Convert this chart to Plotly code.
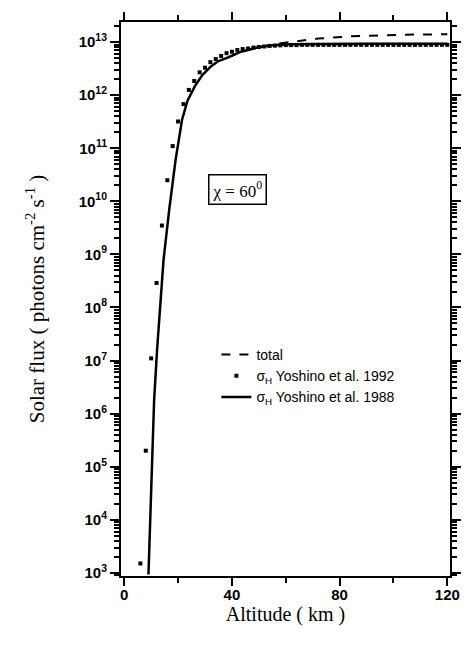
import plotly.graph_objects as go

# Altitude grids (km) and solar flux (photons cm^-2 s^-1)
alt_1988 = [9.0, 9.8, 10.4, 11.1, 12.2, 13.4, 14.6, 16.7, 19.1, 21.5, 23.5, 26.3,
            29.0, 32.2, 35.0, 38.4, 43.0, 49.3, 55.0, 62.0, 75.0, 90.0, 105.0, 120.0]
flux_1988 = [9.3e2, 2.3e4, 2.0e5, 1.8e6, 1.6e7, 1.4e8, 7.9e8, 6.9e9, 6.2e10, 3.5e11,
             7.9e11, 1.5e12, 2.4e12, 3.5e12, 4.4e12, 5.1e12, 6.5e12, 7.9e12, 8.7e12,
             9.1e12, 9.3e12, 9.3e12, 9.3e12, 9.3e12]

alt_total = [38.4, 43.0, 49.3, 55.0, 62.7, 72.0, 84.0, 96.0, 108.0, 120.0]
flux_total = [5.1e12, 6.5e12, 7.9e12, 9.0e12, 1.02e13, 1.17e13, 1.29e13, 1.35e13,
              1.39e13, 1.41e13]

alt_1992 = [6, 8, 10, 12, 14, 16, 18, 20, 22, 24, 26, 28, 30, 32, 34, 36, 38, 40,
            42, 44, 46, 48, 50, 52, 54, 56, 58, 60, 62, 64, 66, 68, 70, 72, 74, 76,
            78, 80, 82, 84, 86, 88, 90, 92, 94, 96, 98, 100, 102, 104, 106, 108,
            110, 112, 114, 116, 118, 120]
flux_1992 = [1.5e3, 2.0e5, 1.1e7, 2.9e8, 3.5e9, 2.5e10, 1.1e11, 3.2e11, 6.8e11,
             1.26e12, 1.86e12, 2.7e12, 3.3e12, 4.2e12, 4.8e12, 5.5e12, 6.2e12,
             6.6e12, 7.1e12, 7.4e12, 7.6e12, 7.9e12, 8.1e12, 8.3e12, 8.5e12, 8.6e12,
             8.7e12, 8.8e12, 8.8e12, 8.8e12, 8.9e12, 8.9e12, 8.9e12, 8.9e12, 8.9e12,
             8.9e12, 8.9e12, 8.9e12, 8.9e12, 8.9e12, 8.9e12, 8.9e12, 8.9e12, 8.9e12,
             8.9e12, 8.9e12, 8.9e12, 8.9e12, 8.9e12, 8.9e12, 8.9e12, 8.9e12, 8.9e12,
             8.9e12, 8.9e12, 8.9e12, 8.9e12, 8.9e12]

x_tickvals = [0, 40, 80, 120]
x_ticktext = ["0", "40", "80", "120"]
y_tickvals = [1e3, 1e4, 1e5, 1e6, 1e7, 1e8, 1e9, 1e10, 1e11, 1e12, 1e13]
y_ticktext = ["10<sup>%d</sup>" % e for e in range(3, 14)]

fig = go.Figure()

fig.add_trace(go.Scatter(
    x=alt_total, y=flux_total, mode="lines", name="total",
    line=dict(color="black", width=2, dash="dash"),
))
fig.add_trace(go.Scatter(
    x=alt_1992, y=flux_1992, mode="markers",
    name="σ<sub>H</sub> Yoshino et al. 1992",
    marker=dict(color="black", size=4, symbol="square"),
))
fig.add_trace(go.Scatter(
    x=alt_1988, y=flux_1988, mode="lines",
    name="σ<sub>H</sub> Yoshino et al. 1988",
    line=dict(color="black", width=2.5),
))

fig.add_annotation(
    x=42, y=10.22, xref="x", yref="y",
    text="χ = 60<sup>0</sup>", showarrow=False,
    font=dict(family="Liberation Serif", size=17, color="black"),
    bordercolor="black", borderwidth=1.5, borderpad=3, bgcolor="white",
)

fig.update_layout(
    width=473, height=646,
    margin=dict(l=121, r=15, t=22, b=70),
    paper_bgcolor="white", plot_bgcolor="white",
    font=dict(family="Liberation Sans", size=13, color="black"),
    showlegend=True,
    legend=dict(
        x=0.29, y=0.428, xanchor="left", yanchor="top",
        bgcolor="rgba(0,0,0,0)", borderwidth=0,
        font=dict(family="Liberation Sans", size=14, color="black"),
        tracegroupgap=0, itemwidth=30,
    ),
)

fig.update_xaxes(
    range=[-1.2, 121.0],
    tickvals=x_tickvals, ticktext=x_ticktext,
    ticks="outside", ticklen=8, tickwidth=2, tickcolor="black",
    ticklabelstandoff=-4,
    minor=dict(tickvals=[20, 60, 100], ticks="outside", ticklen=5,
               tickwidth=2, tickcolor="black"),
    showline=True, linewidth=2, linecolor="black", mirror="allticks",
    showgrid=False, zeroline=False,
    tickfont=dict(family="Liberation Sans", size=15, color="black", weight="bold"),
    title=dict(text="Altitude ( km )",
               font=dict(family="Liberation Serif", size=20, color="black"),
               standoff=0),
)

fig.update_yaxes(
    type="log", range=[2.94, 13.38],
    tickvals=y_tickvals, ticktext=y_ticktext,
    ticks="outside", ticklen=9, tickwidth=2, tickcolor="black",
    minor=dict(ticks="outside", ticklen=5, tickwidth=1.5, tickcolor="black",
               dtick="D1", showgrid=False),
    showline=True, linewidth=2, linecolor="black", mirror="allticks",
    showgrid=False, zeroline=False,
    tickfont=dict(family="Liberation Sans", size=15, color="black", weight="bold"),
    title=dict(text="Solar flux ( photons cm<sup>-2</sup> s<sup>-1</sup> )",
               font=dict(family="Liberation Serif", size=21, color="black"),
               standoff=28),
)

fig.write_html("out.html")
